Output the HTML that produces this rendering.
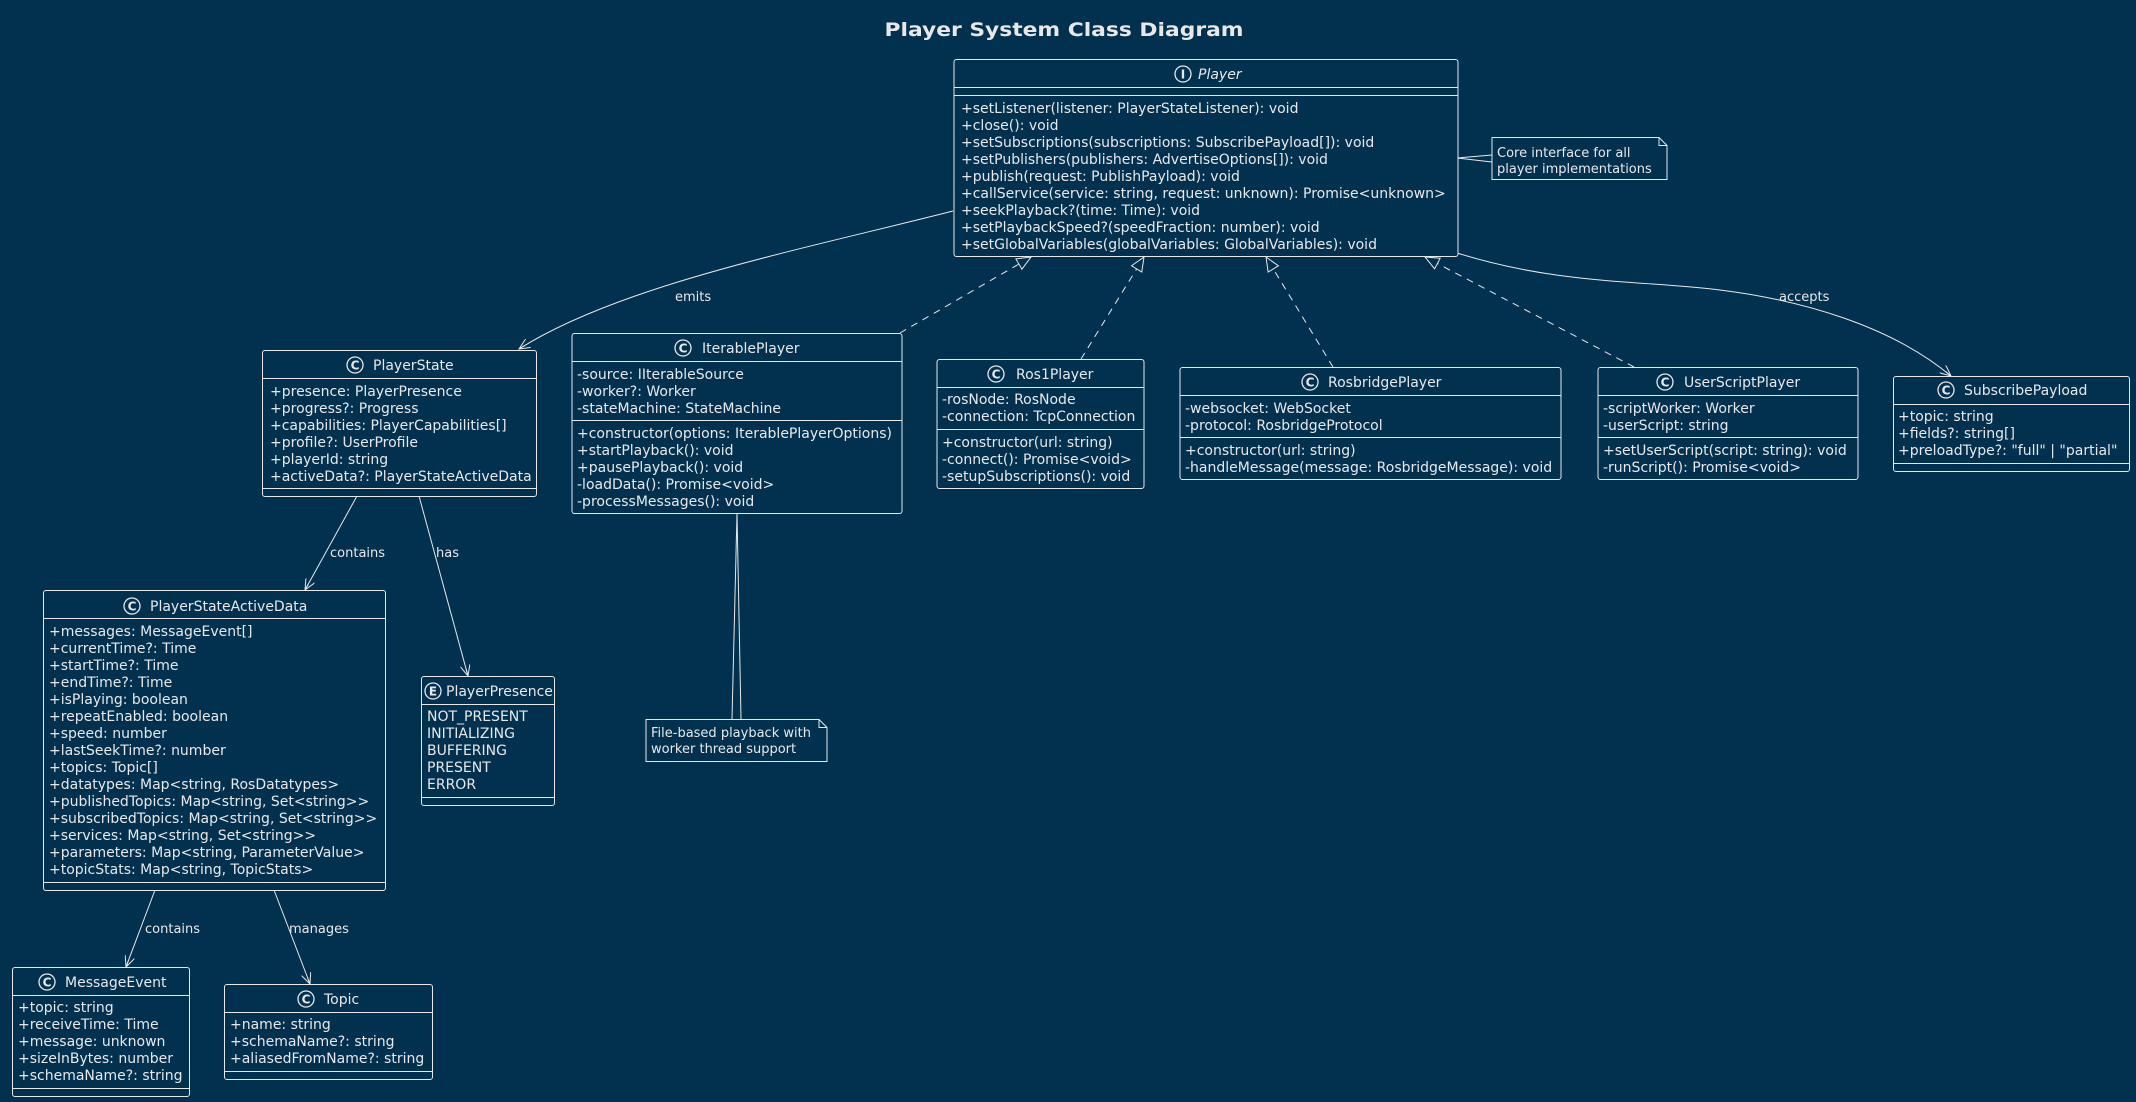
<!DOCTYPE html>
<html><head><meta charset="utf-8"><style>
html,body{margin:0;padding:0;background:#02314f;}
svg{display:block;}
text{font-family:"DejaVu Sans","Liberation Sans",sans-serif;fill:#e8e8e8;font-size:14px;}
.lbl{font-size:13px;}
.box{fill:#02314f;stroke:#e8e8e8;stroke-width:1;}
.ln{stroke:#e8e8e8;stroke-width:1;fill:none;}
.dash{stroke:#e8e8e8;stroke-width:1;fill:none;stroke-dasharray:7,6;}
.ic{fill:none;stroke:#e8e8e8;stroke-width:1.3;}
.il{font-size:12px;font-weight:bold;text-anchor:middle;}
</style></head><body>
<svg width="2136" height="1102" viewBox="0 0 2136 1102" xmlns="http://www.w3.org/2000/svg">
<defs>
<marker id="open" viewBox="0 0 12 10" refX="11" refY="5" markerWidth="12" markerHeight="10" markerUnits="userSpaceOnUse" orient="auto">
<path d="M0,0 L11,5 L0,10 M11,5 L4,5" fill="none" stroke="#e8e8e8" stroke-width="1"/>
</marker>
<marker id="tri" viewBox="0 0 16 14" refX="15" refY="7" markerWidth="16" markerHeight="14" markerUnits="userSpaceOnUse" orient="auto">
<path d="M1,1 L15,7 L1,13 Z" fill="#02314f" stroke="#e8e8e8" stroke-width="1"/>
</marker>
</defs>
<rect width="2136" height="1102" fill="#02314f"/>

<text x="1064" y="36" text-anchor="middle" style="font-size:19px;font-weight:bold" textLength="359" lengthAdjust="spacingAndGlyphs">Player System Class Diagram</text>

<!-- connectors -->
<path class="ln" d="M953,211 C800,250 620,285 519,349" marker-end="url(#open)"/>
<text class="lbl" x="675" y="301">emits</text>
<path class="ln" d="M1457,253 C1560,285 1640,280 1720,290 C1800,300 1890,325 1951,376" marker-end="url(#open)"/>
<text class="lbl" x="1779" y="301">accepts</text>

<path class="dash" d="M900,333 L1031,257" marker-end="url(#tri)"/>
<path class="dash" d="M1081,359 L1144,257" marker-end="url(#tri)"/>
<path class="dash" d="M1333,367 L1266,257" marker-end="url(#tri)"/>
<path class="dash" d="M1634,367 L1425,257" marker-end="url(#tri)"/>

<path class="ln" d="M357,496 L305,590" marker-end="url(#open)"/>
<text class="lbl" x="330" y="557">contains</text>
<path class="ln" d="M419,496 L468,676" marker-end="url(#open)"/>
<text class="lbl" x="436" y="557">has</text>
<path class="ln" d="M155,890 L126,967" marker-end="url(#open)"/>
<text class="lbl" x="145" y="933">contains</text>
<path class="ln" d="M274,890 L310,984" marker-end="url(#open)"/>
<text class="lbl" x="289" y="933">manages</text>

<!-- note connectors -->
<path class="ln" d="M1492,155 L1457,158 L1492,162"/>
<path class="ln" d="M737,513 L732,719 M737,513 L741,719"/>

<!-- Player -->
<rect class="box" x="954" y="59.5" width="504" height="197" rx="2.5"/>
<line class="ln" x1="954" y1="87.5" x2="1458" y2="87.5"/>
<line class="ln" x1="954" y1="95.5" x2="1458" y2="95.5"/>
<circle class="ic" cx="1183" cy="74" r="8"/><text class="il" x="1183" y="78.5">I</text>
<text x="1198" y="79" style="font-style:italic">Player</text>
<text x="961" y="113">+setListener(listener: PlayerStateListener): void</text>
<text x="961" y="130">+close(): void</text>
<text x="961" y="147">+setSubscriptions(subscriptions: SubscribePayload[]): void</text>
<text x="961" y="164">+setPublishers(publishers: AdvertiseOptions[]): void</text>
<text x="961" y="181">+publish(request: PublishPayload): void</text>
<text x="961" y="198">+callService(service: string, request: unknown): Promise&lt;unknown&gt;</text>
<text x="961" y="215">+seekPlayback?(time: Time): void</text>
<text x="961" y="232">+setPlaybackSpeed?(speedFraction: number): void</text>
<text x="961" y="249">+setGlobalVariables(globalVariables: GlobalVariables): void</text>

<!-- Note core -->
<path class="box" d="M1492,137.5 L1659,137.5 L1667,145.5 L1667,179.5 L1492,179.5 Z"/>
<path class="ln" d="M1659,137.5 L1659,145.5 L1667,145.5"/>
<text class="lbl" x="1497" y="157">Core interface for all</text>
<text class="lbl" x="1497" y="173">player implementations</text>

<!-- PlayerState -->
<rect class="box" x="262.5" y="350.5" width="274" height="146" rx="2.5"/>
<line class="ln" x1="262.5" y1="378.5" x2="536.5" y2="378.5"/>
<line class="ln" x1="262.5" y1="488.5" x2="536.5" y2="488.5"/>
<circle class="ic" cx="355" cy="365" r="8"/><text class="il" x="355" y="369.5">C</text>
<text x="373" y="370">PlayerState</text>
<text x="270" y="396">+presence: PlayerPresence</text>
<text x="270" y="413">+progress?: Progress</text>
<text x="270" y="430">+capabilities: PlayerCapabilities[]</text>
<text x="270" y="447">+profile?: UserProfile</text>
<text x="270" y="464">+playerId: string</text>
<text x="270" y="481">+activeData?: PlayerStateActiveData</text>

<!-- IterablePlayer -->
<rect class="box" x="572" y="333.5" width="330" height="180" rx="2.5"/>
<line class="ln" x1="572" y1="361.5" x2="902" y2="361.5"/>
<line class="ln" x1="572" y1="420.5" x2="902" y2="420.5"/>
<circle class="ic" cx="683" cy="348" r="8"/><text class="il" x="683" y="352.5">C</text>
<text x="702" y="353">IterablePlayer</text>
<text x="577" y="379">-source: IIterableSource</text>
<text x="577" y="396">-worker?: Worker</text>
<text x="577" y="413">-stateMachine: StateMachine</text>
<text x="577" y="438">+constructor(options: IterablePlayerOptions)</text>
<text x="577" y="455">+startPlayback(): void</text>
<text x="577" y="472">+pausePlayback(): void</text>
<text x="577" y="489">-loadData(): Promise&lt;void&gt;</text>
<text x="577" y="506">-processMessages(): void</text>

<!-- Ros1Player -->
<rect class="box" x="937" y="359.5" width="207" height="129" rx="2.5"/>
<line class="ln" x1="937" y1="387.5" x2="1144" y2="387.5"/>
<line class="ln" x1="937" y1="429.5" x2="1144" y2="429.5"/>
<circle class="ic" cx="996" cy="374" r="8"/><text class="il" x="996" y="378.5">C</text>
<text x="1016" y="379">Ros1Player</text>
<text x="942" y="404">-rosNode: RosNode</text>
<text x="942" y="421">-connection: TcpConnection</text>
<text x="942" y="447">+constructor(url: string)</text>
<text x="942" y="464">-connect(): Promise&lt;void&gt;</text>
<text x="942" y="481">-setupSubscriptions(): void</text>

<!-- RosbridgePlayer -->
<rect class="box" x="1180" y="367.5" width="381" height="112" rx="2.5"/>
<line class="ln" x1="1180" y1="395.5" x2="1561" y2="395.5"/>
<line class="ln" x1="1180" y1="437.5" x2="1561" y2="437.5"/>
<circle class="ic" cx="1310" cy="382" r="8"/><text class="il" x="1310" y="386.5">C</text>
<text x="1328" y="387">RosbridgePlayer</text>
<text x="1185" y="413">-websocket: WebSocket</text>
<text x="1185" y="430">-protocol: RosbridgeProtocol</text>
<text x="1185" y="455">+constructor(url: string)</text>
<text x="1185" y="472">-handleMessage(message: RosbridgeMessage): void</text>

<!-- UserScriptPlayer -->
<rect class="box" x="1598" y="367.5" width="260" height="112" rx="2.5"/>
<line class="ln" x1="1598" y1="395.5" x2="1858" y2="395.5"/>
<line class="ln" x1="1598" y1="437.5" x2="1858" y2="437.5"/>
<circle class="ic" cx="1665" cy="382" r="8"/><text class="il" x="1665" y="386.5">C</text>
<text x="1684" y="387">UserScriptPlayer</text>
<text x="1603" y="413">-scriptWorker: Worker</text>
<text x="1603" y="430">-userScript: string</text>
<text x="1603" y="455">+setUserScript(script: string): void</text>
<text x="1603" y="472">-runScript(): Promise&lt;void&gt;</text>

<!-- SubscribePayload -->
<rect class="box" x="1893.5" y="376.5" width="236" height="95" rx="2.5"/>
<line class="ln" x1="1893.5" y1="404.5" x2="2129.5" y2="404.5"/>
<line class="ln" x1="1893.5" y1="463.5" x2="2129.5" y2="463.5"/>
<circle class="ic" cx="1946" cy="390" r="8"/><text class="il" x="1946" y="394.5">C</text>
<text x="1964" y="395">SubscribePayload</text>
<text x="1898" y="421">+topic: string</text>
<text x="1898" y="438">+fields?: string[]</text>
<text x="1898" y="455">+preloadType?: "full" | "partial"</text>

<!-- PlayerStateActiveData -->
<rect class="box" x="43.5" y="590.5" width="342" height="300" rx="2.5"/>
<line class="ln" x1="43.5" y1="618.5" x2="385.5" y2="618.5"/>
<line class="ln" x1="43.5" y1="882.5" x2="385.5" y2="882.5"/>
<circle class="ic" cx="132" cy="606" r="8"/><text class="il" x="132" y="610.5">C</text>
<text x="150" y="611">PlayerStateActiveData</text>
<text x="49" y="636">+messages: MessageEvent[]</text>
<text x="49" y="653">+currentTime?: Time</text>
<text x="49" y="670">+startTime?: Time</text>
<text x="49" y="687">+endTime?: Time</text>
<text x="49" y="704">+isPlaying: boolean</text>
<text x="49" y="721">+repeatEnabled: boolean</text>
<text x="49" y="738">+speed: number</text>
<text x="49" y="755">+lastSeekTime?: number</text>
<text x="49" y="772">+topics: Topic[]</text>
<text x="49" y="789">+datatypes: Map&lt;string, RosDatatypes&gt;</text>
<text x="49" y="806">+publishedTopics: Map&lt;string, Set&lt;string&gt;&gt;</text>
<text x="49" y="823">+subscribedTopics: Map&lt;string, Set&lt;string&gt;&gt;</text>
<text x="49" y="840">+services: Map&lt;string, Set&lt;string&gt;&gt;</text>
<text x="49" y="857">+parameters: Map&lt;string, ParameterValue&gt;</text>
<text x="49" y="874">+topicStats: Map&lt;string, TopicStats&gt;</text>

<!-- PlayerPresence -->
<rect class="box" x="421.5" y="676.5" width="133" height="129" rx="2.5"/>
<line class="ln" x1="421.5" y1="704.5" x2="554.5" y2="704.5"/>
<line class="ln" x1="421.5" y1="797.5" x2="554.5" y2="797.5"/>
<circle class="ic" cx="433" cy="691" r="8"/><text class="il" x="433" y="695.5">E</text>
<text x="446" y="696">PlayerPresence</text>
<text x="427" y="721">NOT_PRESENT</text>
<text x="427" y="738">INITIALIZING</text>
<text x="427" y="755">BUFFERING</text>
<text x="427" y="772">PRESENT</text>
<text x="427" y="789">ERROR</text>

<!-- note file-based -->
<path class="box" d="M646,719.5 L819,719.5 L827,727.5 L827,761.5 L646,761.5 Z"/>
<path class="ln" d="M819,719.5 L819,727.5 L827,727.5"/>
<text class="lbl" x="651" y="737">File-based playback with</text>
<text class="lbl" x="651" y="753">worker thread support</text>

<!-- MessageEvent -->
<rect class="box" x="12.5" y="967.5" width="177" height="129" rx="2.5"/>
<line class="ln" x1="12.5" y1="995.5" x2="189.5" y2="995.5"/>
<line class="ln" x1="12.5" y1="1088.5" x2="189.5" y2="1088.5"/>
<circle class="ic" cx="47" cy="982" r="8"/><text class="il" x="47" y="986.5">C</text>
<text x="65" y="987">MessageEvent</text>
<text x="18" y="1012">+topic: string</text>
<text x="18" y="1029">+receiveTime: Time</text>
<text x="18" y="1046">+message: unknown</text>
<text x="18" y="1063">+sizeInBytes: number</text>
<text x="18" y="1080">+schemaName?: string</text>

<!-- Topic -->
<rect class="box" x="224.5" y="984.5" width="208" height="95" rx="2.5"/>
<line class="ln" x1="224.5" y1="1012.5" x2="432.5" y2="1012.5"/>
<line class="ln" x1="224.5" y1="1071.5" x2="432.5" y2="1071.5"/>
<circle class="ic" cx="306" cy="999" r="8"/><text class="il" x="306" y="1003.5">C</text>
<text x="324" y="1004">Topic</text>
<text x="230" y="1029">+name: string</text>
<text x="230" y="1046">+schemaName?: string</text>
<text x="230" y="1063">+aliasedFromName?: string</text>
</svg>
</body></html>
